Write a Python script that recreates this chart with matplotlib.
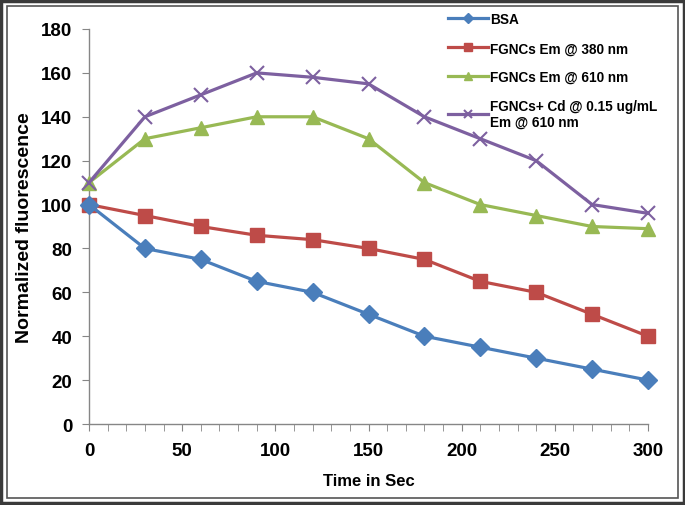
import numpy as np
import matplotlib
matplotlib.use('Agg')
import matplotlib.pyplot as plt
from matplotlib.patches import Rectangle

plt.rcParams['font.family'] = ['Liberation Sans', 'DejaVu Sans']
plt.rcParams['font.weight'] = 'bold'

time_sec = [0, 30, 60, 90, 120, 150, 180, 210, 240, 270, 300]
bsa = [100, 80, 75, 65, 60, 50, 40, 35, 30, 25, 20]
em_380 = [100, 95, 90, 86, 84, 80, 75, 65, 60, 50, 40]
em_610 = [110, 130, 135, 140, 140, 130, 110, 100, 95, 90, 89]
cd_610 = [110, 140, 150, 160, 158, 155, 140, 130, 120, 100, 96]
labels = ['BSA', 'FGNCs Em @ 380 nm', 'FGNCs Em @ 610 nm',
          'FGNCs+ Cd @ 0.15 ug/mL\nEm @ 610 nm']

fig = plt.figure(figsize=(6.85, 5.06), dpi=100)
ax = fig.add_axes([89/685, 1-425/506, (648-89)/685, (425-30)/506])

ax.plot(time_sec, bsa, '-D', color='#4A7EBB', lw=2.3, ms=9, label=labels[0], clip_on=False, zorder=4)
ax.plot(time_sec, em_380, '-s', color='#BE4B48', lw=2.3, ms=10.5, label=labels[1], clip_on=False, zorder=3)
ax.plot(time_sec, em_610, '-^', color='#98B954', lw=2.3, ms=10.5, label=labels[2], clip_on=False, zorder=3)
ax.plot(time_sec, cd_610, '-x', color='#7D60A0', lw=2.3, ms=10, mew=1.5, label=labels[3], clip_on=False, zorder=3)

ax.set_xlim(0, 300)
ax.set_ylim(0, 180)
ax.set_xticks(np.arange(0, 301, 50))
ax.set_xticks(np.arange(0, 301, 10), minor=True)
ax.set_yticks(np.arange(0, 181, 20))
for s in ['top', 'right']:
    ax.spines[s].set_visible(False)
for s in ['left', 'bottom']:
    ax.spines[s].set_color('#868686')
    ax.spines[s].set_linewidth(1)
ax.tick_params(axis='both', which='both', color='#868686', direction='out', labelsize=13.5, length=5)
ax.tick_params(axis='x', which='minor', length=5)
ax.tick_params(axis='x', pad=8)
ax.tick_params(axis='y', pad=7)
for t in ax.get_xticklabels() + ax.get_yticklabels():
    t.set_fontweight('bold')

ax.set_xlabel('Time in Sec', fontsize=12, fontweight='bold', labelpad=10)
ax.set_ylabel('Normalized fluorescence', fontsize=14, fontweight='bold', labelpad=6)

leg = fig.legend(loc='upper left', bbox_to_anchor=(436/685, 1-1/506), frameon=False,
                 fontsize=9.8, handlelength=2.9, handletextpad=0.15, labelspacing=1.1,
                 markerscale=0.55)
for t in leg.get_texts():
    t.set_fontweight('bold')
    t.set_linespacing(1.1)

fig.patches.append(Rectangle((0.002, 0.003), 0.996, 0.994, transform=fig.transFigure,
                             fill=False, edgecolor='#3a3a3a', lw=2.5))
fig.patches.append(Rectangle((7/685, 7/506), 1-14/685, 1-14/506, transform=fig.transFigure,
                             fill=False, edgecolor='#555555', lw=1.2))

fig.savefig('out.png', dpi=100)
